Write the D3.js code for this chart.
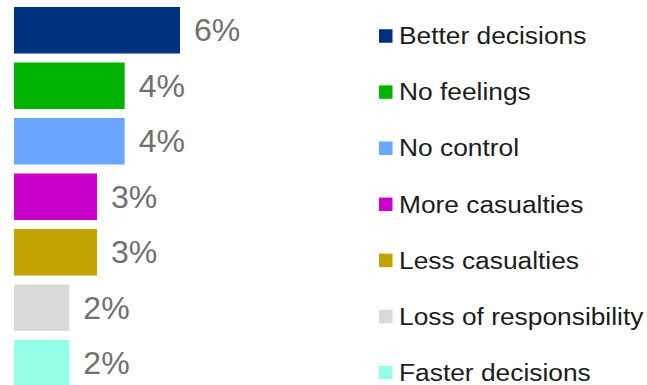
<!DOCTYPE html>
<html>
<head>
<meta charset="utf-8">
<script src="https://cdn.jsdelivr.net/npm/d3@7"></script>
<style>
  html, body { margin: 0; padding: 0; background: #ffffff; }
  svg { display: block; }
</style>
</head>
<body>
<svg id="chart" width="647" height="385"></svg>
<script>
// Share of responses per category (percent)
const categories = [
  "Better decisions",
  "No feelings",
  "No control",
  "More casualties",
  "Less casualties",
  "Loss of responsibility",
  "Faster decisions"
];
const values = [6, 4, 4, 3, 3, 2, 2];
const valueLabels = ["6%", "4%", "4%", "3%", "3%", "2%", "2%"];
const colors = ["#00317f", "#00b300", "#6aa6ff", "#cc00cc", "#c2a300", "#d9d9d9", "#94ffe6"];

const svg = d3.select("#chart");
const font = "'Liberation Sans', Arial, Helvetica, sans-serif";

const x = d3.scaleLinear().domain([0, 6]).range([14, 180]);
const y = d3.scaleBand()
  .domain(categories)
  .range([2.5, 2.5 + 55.5 * 7])
  .paddingInner(0.162)
  .paddingOuter(0.081);

const rows = categories.map((c, i) => ({ cat: c, value: values[i], label: valueLabels[i], color: colors[i] }));

// Bars
svg.append("g").selectAll("rect")
  .data(rows)
  .join("rect")
  .attr("x", x(0))
  .attr("y", d => y(d.cat))
  .attr("width", d => x(d.value) - x(0))
  .attr("height", y.bandwidth())
  .attr("fill", d => d.color);

// Value labels
svg.append("g").selectAll("text")
  .data(rows)
  .join("text")
  .attr("x", d => x(d.value) + 14)
  .attr("y", d => y(d.cat) + y.bandwidth() / 2)
  .attr("dy", "0.34em")
  .attr("font-family", font)
  .attr("font-size", 32)
  .attr("fill", "#707070")
  .text(d => d.label);

// Legend (text is set slightly wide)
const ly = d3.scalePoint().domain(categories).range([36, 372.6]);
const legend = svg.append("g").selectAll("g")
  .data(rows)
  .join("g")
  .attr("transform", d => `translate(379,${ly(d.cat)})`);

legend.append("rect")
  .attr("x", 0)
  .attr("y", -6.75)
  .attr("width", 13.5)
  .attr("height", 13.5)
  .attr("fill", d => d.color);

legend.append("text")
  .attr("transform", "translate(20,0) scale(1.145,1)")
  .attr("dy", "0.36em")
  .attr("font-family", font)
  .attr("font-size", 23)
  .attr("fill", "#1c1c1c")
  .text(d => d.cat);
</script>
</body>
</html>
